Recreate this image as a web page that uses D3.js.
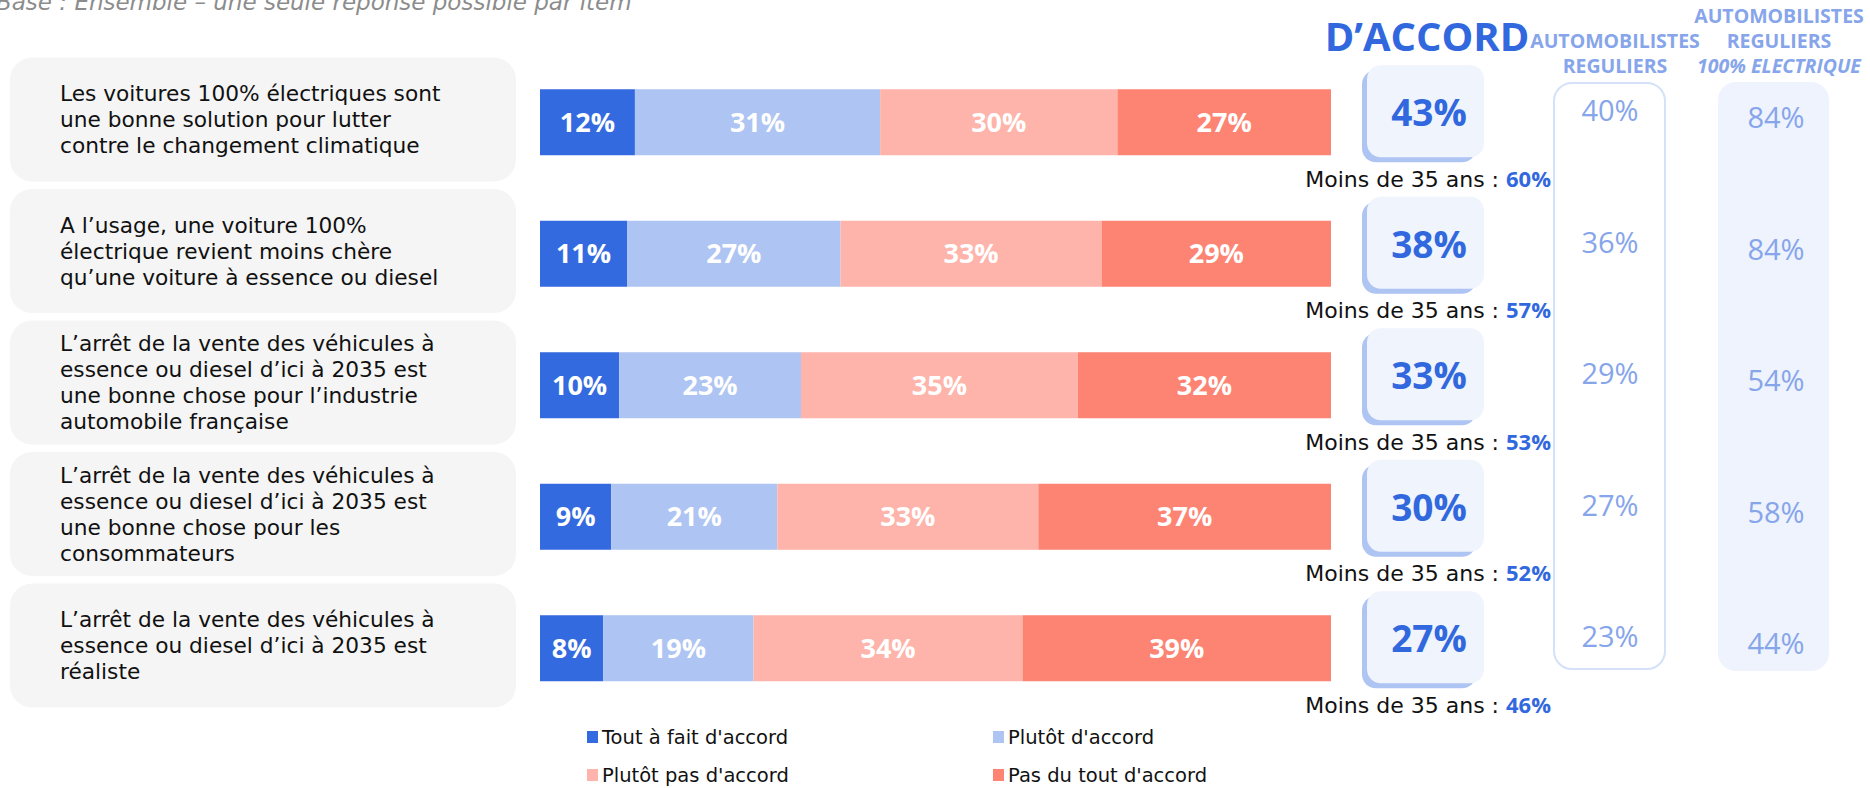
<!DOCTYPE html>
<html>
<head>
<meta charset="utf-8">
<script src="https://cdn.jsdelivr.net/npm/d3@7"></script>
<style>
  body { margin: 0; background: #fff; }
  svg { display: block; font-family: "Open Sans", sans-serif; }
  .plain { font-family: "DejaVu Sans", sans-serif; }
</style>
</head>
<body>
<svg width="1870" height="788"></svg>
<script>
// statements (one per row)
var items = [
  ["Les voitures 100% électriques sont", "une bonne solution pour lutter", "contre le changement climatique"],
  ["A l’usage, une voiture 100%", "électrique revient moins chère", "qu’une voiture à essence ou diesel"],
  ["L’arrêt de la vente des véhicules à", "essence ou diesel d’ici à 2035 est", "une bonne chose pour l’industrie", "automobile française"],
  ["L’arrêt de la vente des véhicules à", "essence ou diesel d’ici à 2035 est", "une bonne chose pour les", "consommateurs"],
  ["L’arrêt de la vente des véhicules à", "essence ou diesel d’ici à 2035 est", "réaliste"]
];

var seriesNames = ["Tout à fait d'accord", "Plutôt d'accord", "Plutôt pas d'accord", "Pas du tout d'accord"];
var toutAFait = [12, 11, 10, 9, 8];
var plutot = [31, 27, 23, 21, 19];
var plutotPas = [30, 33, 35, 33, 34];
var pasDuTout = [27, 29, 32, 37, 39];

var accord = [43, 38, 33, 30, 27];
var moins35 = [60, 57, 53, 52, 46];
var reguliers = [40, 36, 29, 27, 23];
var electrique = [84, 84, 54, 58, 44];

var colors = ["#346ae0", "#aec4f2", "#feb4aa", "#fd8373"];
var blue = "#3268de";
var pale = "#86a5ea";

var svg = d3.select("svg");

var rows = d3.range(items.length).map(function(i) {
  return {i: i, values: [toutAFait[i], plutot[i], plutotPas[i], pasDuTout[i]]};
});

var x = d3.scaleLinear().domain([0, 100]).range([540, 1331]);
var y = d3.scaleBand().domain(d3.range(items.length)).range([56.5, 714]);
var barH = 66;
var mid = function(i) { return y(i) + y.bandwidth() / 2; };

// subtitle, cut at the top like the slide
svg.append("text")
  .attr("class", "plain")
  .attr("x", -4)
  .attr("y", 10)
  .attr("font-size", 23)
  .attr("font-style", "italic")
  .attr("fill", "#8c8c8c")
  .text("Base : Ensemble – une seule réponse possible par item");

// label boxes
var labels = svg.selectAll("g.label")
  .data(rows)
  .enter()
  .append("g")
  .attr("class", "label");

labels.append("rect")
  .attr("x", 10)
  .attr("y", function(d) { return y(d.i) + 1; })
  .attr("width", 506)
  .attr("height", 124)
  .attr("rx", 22)
  .attr("fill", "#f5f5f5");

labels.append("text")
  .attr("class", "plain")
  .attr("font-size", 21.7)
  .attr("fill", "#111")
  .each(function(d) {
    var lines = items[d.i];
    var cy = y(d.i) + 63;
    var lh = 26;
    var top = cy - (lines.length - 1) * lh / 2;
    d3.select(this).selectAll("tspan")
      .data(lines)
      .enter()
      .append("tspan")
      .attr("x", 60)
      .attr("y", function(l, k) { return top + k * lh; })
      .attr("dy", "0.35em")
      .text(function(l) { return l; });
  });

// stacked bars
var stack = svg.selectAll("g.bar")
  .data(rows)
  .enter()
  .append("g")
  .attr("class", "bar");

stack.each(function(d) {
  var acc = 0;
  var segs = d.values.map(function(v, k) {
    var s = {k: k, v: v, x0: acc, x1: acc + v};
    acc += v;
    return s;
  });
  var g = d3.select(this);
  g.selectAll("rect")
    .data(segs)
    .enter()
    .append("rect")
    .attr("x", function(s) { return x(s.x0); })
    .attr("width", function(s) { return x(s.x1) - x(s.x0); })
    .attr("y", mid(d.i) - barH / 2)
    .attr("height", barH)
    .attr("fill", function(s) { return colors[s.k]; });
  g.selectAll("text")
    .data(segs)
    .enter()
    .append("text")
    .attr("x", function(s) { return (x(s.x0) + x(s.x1)) / 2; })
    .attr("y", mid(d.i))
    .attr("dy", "0.35em")
    .attr("text-anchor", "middle")
    .attr("font-size", 27)
    .attr("font-weight", "bold")
    .attr("fill", "#fff")
    .text(function(s) { return s.v + "%"; });
});

// headers
svg.append("text")
  .attr("x", 1427)
  .attr("y", 51)
  .attr("text-anchor", "middle")
  .attr("font-size", 40)
  .attr("font-weight", "bold")
  .attr("fill", blue)
  .text("D’ACCORD");

svg.append("text")
  .attr("text-anchor", "middle")
  .attr("font-size", 19.5)
  .attr("font-weight", "bold")
  .attr("fill", pale)
  .selectAll("tspan")
  .data(["AUTOMOBILISTES", "REGULIERS"])
  .enter()
  .append("tspan")
  .attr("x", 1615)
  .attr("y", function(d, k) { return 48 + k * 25; })
  .text(function(d) { return d; });

svg.append("text")
  .attr("text-anchor", "middle")
  .attr("font-size", 19.5)
  .attr("font-weight", "bold")
  .attr("fill", pale)
  .selectAll("tspan")
  .data(["AUTOMOBILISTES", "REGULIERS", "100% ELECTRIQUE"])
  .enter()
  .append("tspan")
  .attr("x", 1779)
  .attr("y", function(d, k) { return 23 + k * 25; })
  .attr("font-style", function(d, k) { return k == 2 ? "italic" : null; })
  .text(function(d) { return d; });

// side columns
svg.append("rect")
  .attr("x", 1554).attr("y", 83)
  .attr("width", 111).attr("height", 586)
  .attr("rx", 18)
  .attr("fill", "#fff")
  .attr("stroke", "#d5e1f9")
  .attr("stroke-width", 2);

svg.append("rect")
  .attr("x", 1718).attr("y", 82)
  .attr("width", 111).attr("height", 589)
  .attr("rx", 18)
  .attr("fill", "#eef3fd");

svg.selectAll("text.reg")
  .data(reguliers)
  .enter()
  .append("text")
  .attr("class", "reg")
  .attr("x", 1610)
  .attr("y", function(d, i) { return mid(i) - 11; })
  .attr("dy", "0.35em")
  .attr("text-anchor", "middle")
  .attr("font-size", 29)
  .attr("fill", pale)
  .text(function(d) { return d + "%"; });

svg.selectAll("text.elec")
  .data(electrique)
  .enter()
  .append("text")
  .attr("class", "elec")
  .attr("x", 1776)
  .attr("y", function(d, i) { return mid(i) - 4; })
  .attr("dy", "0.35em")
  .attr("text-anchor", "middle")
  .attr("font-size", 29)
  .attr("fill", pale)
  .text(function(d) { return d + "%"; });

// accord boxes
var box = svg.selectAll("g.accord")
  .data(accord)
  .enter()
  .append("g")
  .attr("class", "accord")
  .attr("transform", function(d, i) {
    return "translate(0," + (mid(i) - 11) + ")";
  });

box.append("rect")
  .attr("x", 1362).attr("y", -41)
  .attr("width", 114).attr("height", 92)
  .attr("rx", 14)
  .attr("fill", "#aec4f2");

box.append("rect")
  .attr("x", 1367).attr("y", -46)
  .attr("width", 117).attr("height", 92)
  .attr("rx", 14)
  .attr("fill", "#eff4fd");

box.append("text")
  .attr("x", 1429)
  .attr("y", 2)
  .attr("dy", "0.35em")
  .attr("text-anchor", "middle")
  .attr("font-size", 37)
  .attr("font-weight", "bold")
  .attr("fill", blue)
  .text(function(d) { return d + "%"; });

// "Moins de 35 ans"
var m = svg.selectAll("text.moins")
  .data(moins35)
  .enter()
  .append("text")
  .attr("class", "moins")
  .attr("x", 1551)
  .attr("y", function(d, i) { return mid(i) + 57; })
  .attr("dy", "0.35em")
  .attr("text-anchor", "end")
  .attr("font-size", 22)
  .attr("fill", "#111");
m.append("tspan")
  .attr("class", "plain")
  .text("Moins de 35 ans : ");
m.append("tspan")
  .attr("font-weight", "bold")
  .attr("fill", blue)
  .text(function(d) { return d + "%"; });

// legend
var legend = svg.selectAll("g.legend")
  .data(seriesNames)
  .enter()
  .append("g")
  .attr("class", "legend")
  .attr("transform", function(d, k) {
    return "translate(" + (k % 2 == 0 ? 587 : 993) + "," + (k < 2 ? 737 : 775) + ")";
  });

legend.append("rect")
  .attr("x", 0).attr("y", -6)
  .attr("width", 11).attr("height", 12)
  .attr("fill", function(d, k) { return colors[k]; });

legend.append("text")
  .attr("class", "plain")
  .attr("x", 15)
  .attr("dy", "0.35em")
  .attr("font-size", 19.5)
  .attr("fill", "#111")
  .text(function(d) { return d; });
</script>
</body>
</html>
